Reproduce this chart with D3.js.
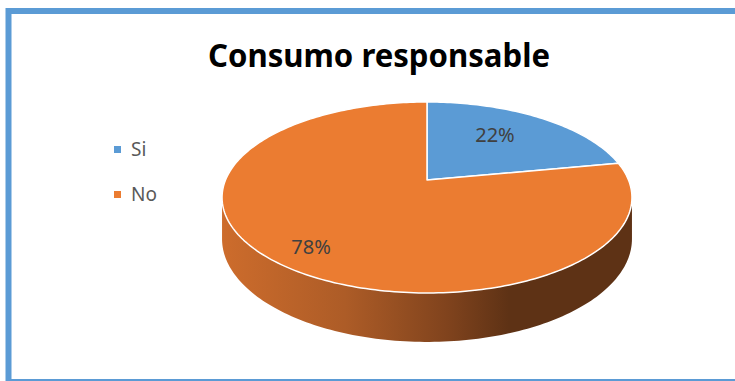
<!DOCTYPE html>
<meta charset="utf-8">
<style>
body { margin: 0; background: #fff; }
text { font-family: "Noto Sans", "Open Sans", sans-serif; }
</style>
<svg width="735" height="381"></svg>
<script src="https://d3js.org/d3.v7.min.js"></script>
<script>

// chart data
var title = "Consumo responsable";
var categories = ["Si", "No"];
var values = [22, 78];
var colors = ["#5B9BD5", "#EB7C31"];

var svg = d3.select("svg");

// frame, cropped on the right
svg.append("rect")
    .attr("x", 8.5).attr("y", 11)
    .attr("width", 800).attr("height", 371)
    .attr("fill", "#fff")
    .attr("stroke", "#5B9BD5")
    .attr("stroke-width", 6);

svg.append("text")
    .attr("x", 379).attr("y", 67)
    .attr("text-anchor", "middle")
    .attr("font-size", 33)
    .attr("font-weight", "bold")
    .attr("textLength", 342)
    .attr("lengthAdjust", "spacingAndGlyphs")
    .text(title);

// 3d pie projection (tilted disc seen in perspective)
var cx = 427, cy = 180, A = 201.5, B = 92.3, c = 0.183, T = 40;
function proj(t, r, h) {
  var w = 1 + c * r * Math.cos(t);
  return [cx + A * r * Math.sin(t) / w, cy + (-B * r * Math.cos(t) + T * h) / w];
}
function rim(a0, a1, h) {
  var n = Math.max(2, Math.ceil(Math.abs(a1 - a0) / 0.02));
  return d3.range(n + 1).map(function(i) { return proj(a0 + (a1 - a0) * i / n, 1, h); });
}

var arcs = d3.pie().sort(null)(values);
var line = d3.line();

var ts1 = Math.acos(-c), ts2 = 2 * Math.PI - ts1;

var defs = svg.append("defs");
var left = proj(ts2, 1, 0)[0], right = proj(ts1, 1, 0)[0];
var grad = defs.append("linearGradient")
    .attr("id", "side")
    .attr("gradientUnits", "userSpaceOnUse")
    .attr("x1", left).attr("x2", right).attr("y1", 0).attr("y2", 0);
[[0, "#CD6C2C"], [0.3, "#AD5C27"], [0.55, "#80431D"], [0.7, "#5E3215"], [1, "#5E3215"]]
  .forEach(function(s) { grad.append("stop").attr("offset", s[0]).attr("stop-color", s[1]); });

// side walls
var sides = svg.append("g");
arcs.forEach(function(d) {
  var a0 = Math.max(d.startAngle, ts1), a1 = Math.min(d.endAngle, ts2);
  if (a1 <= a0) return;
  var pts = rim(a0, a1, 0).concat(rim(a1, a0, 1));
  sides.append("path")
      .attr("d", line(pts) + "Z")
      .attr("fill", "url(#side)");
});

// top faces
svg.append("g").selectAll("path")
  .data(arcs)
  .join("path")
    .attr("d", function(d) {
      return line([[cx, cy]].concat(rim(d.startAngle, d.endAngle, 0))) + "Z";
    })
    .attr("fill", function(d, i) { return colors[i]; })
    .attr("stroke", "#fff")
    .attr("stroke-width", 1.5)
    .attr("stroke-linejoin", "round");

// data labels (best-fit nudges like the original)
var total = d3.sum(values);
var labelNudge = [[-16, 1], [-13, 10]];
svg.append("g").selectAll("text")
  .data(arcs)
  .join("text")
    .attr("transform", function(d, i) {
      var p = proj((d.startAngle + d.endAngle) / 2, 0.72, 0);
      return "translate(" + (p[0] + labelNudge[i][0]) + "," + (p[1] + 7 + labelNudge[i][1]) + ")";
    })
    .attr("text-anchor", "middle")
    .attr("font-size", 20)
    .attr("fill", "#404040")
    .text(function(d) { return Math.round(d.value / total * 100) + "%"; });

// legend
var legend = svg.append("g").selectAll("g")
  .data(categories)
  .join("g")
    .attr("transform", function(d, i) { return "translate(114," + (146 + i * 45) + ")"; });
legend.append("rect")
    .attr("width", 7).attr("height", 7)
    .attr("fill", function(d, i) { return colors[i]; });
legend.append("text")
    .attr("x", 17).attr("y", 10)
    .attr("font-size", 19)
    .attr("fill", "#595959")
    .text(function(d) { return d; });

</script>
